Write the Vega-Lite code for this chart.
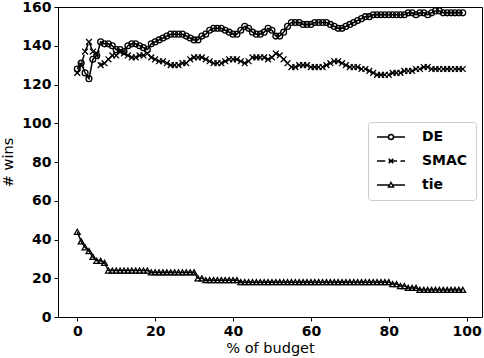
{
"$schema": "https://vega.github.io/schema/vega-lite/v6.json",
"width": 424, "height": 310,
"autosize": {"type": "none"},
"padding": {"left": 58, "top": 7, "right": 2, "bottom": 41},
"background": "white",
"config": {
 "view": {"stroke": "black", "strokeWidth": 1},
 "axis": {"grid": false, "domainColor": "black", "tickColor": "black", "tickSize": 4, "labelFont": "DejaVu Sans", "labelFontSize": 14, "labelFontWeight": "bold", "labelColor": "black", "titleFont": "DejaVu Sans", "titleFontSize": 14.5, "titleFontWeight": "normal", "titleColor": "black", "labelPadding": 3}
},
"data": {"values": [
{"x":0,"s":"DE","y":128},{"x":1,"s":"DE","y":131},{"x":2,"s":"DE","y":126},{"x":3,"s":"DE","y":123},{"x":4,"s":"DE","y":133},{"x":5,"s":"DE","y":135},{"x":6,"s":"DE","y":142},{"x":7,"s":"DE","y":141},{"x":8,"s":"DE","y":141},{"x":9,"s":"DE","y":140},
{"x":10,"s":"DE","y":138},{"x":11,"s":"DE","y":138},{"x":12,"s":"DE","y":137},{"x":13,"s":"DE","y":140},{"x":14,"s":"DE","y":141},{"x":15,"s":"DE","y":141},{"x":16,"s":"DE","y":140},{"x":17,"s":"DE","y":139},{"x":18,"s":"DE","y":138},{"x":19,"s":"DE","y":141},
{"x":20,"s":"DE","y":142},{"x":21,"s":"DE","y":143},{"x":22,"s":"DE","y":144},{"x":23,"s":"DE","y":145},{"x":24,"s":"DE","y":146},{"x":25,"s":"DE","y":146},{"x":26,"s":"DE","y":146},{"x":27,"s":"DE","y":146},{"x":28,"s":"DE","y":145},{"x":29,"s":"DE","y":144},
{"x":30,"s":"DE","y":143},{"x":31,"s":"DE","y":143},{"x":32,"s":"DE","y":145},{"x":33,"s":"DE","y":146},{"x":34,"s":"DE","y":148},{"x":35,"s":"DE","y":149},{"x":36,"s":"DE","y":149},{"x":37,"s":"DE","y":149},{"x":38,"s":"DE","y":148},{"x":39,"s":"DE","y":147},
{"x":40,"s":"DE","y":146},{"x":41,"s":"DE","y":146},{"x":42,"s":"DE","y":148},{"x":43,"s":"DE","y":150},{"x":44,"s":"DE","y":149},{"x":45,"s":"DE","y":147},{"x":46,"s":"DE","y":146},{"x":47,"s":"DE","y":146},{"x":48,"s":"DE","y":147},{"x":49,"s":"DE","y":149},
{"x":50,"s":"DE","y":148},{"x":51,"s":"DE","y":145},{"x":52,"s":"DE","y":145},{"x":53,"s":"DE","y":147},{"x":54,"s":"DE","y":150},{"x":55,"s":"DE","y":152},{"x":56,"s":"DE","y":152},{"x":57,"s":"DE","y":152},{"x":58,"s":"DE","y":151},{"x":59,"s":"DE","y":151},
{"x":60,"s":"DE","y":151},{"x":61,"s":"DE","y":152},{"x":62,"s":"DE","y":152},{"x":63,"s":"DE","y":152},{"x":64,"s":"DE","y":152},{"x":65,"s":"DE","y":151},{"x":66,"s":"DE","y":150},{"x":67,"s":"DE","y":149},{"x":68,"s":"DE","y":149},{"x":69,"s":"DE","y":150},
{"x":70,"s":"DE","y":151},{"x":71,"s":"DE","y":152},{"x":72,"s":"DE","y":153},{"x":73,"s":"DE","y":154},{"x":74,"s":"DE","y":155},{"x":75,"s":"DE","y":155},{"x":76,"s":"DE","y":156},{"x":77,"s":"DE","y":156},{"x":78,"s":"DE","y":156},{"x":79,"s":"DE","y":156},
{"x":80,"s":"DE","y":156},{"x":81,"s":"DE","y":156},{"x":82,"s":"DE","y":156},{"x":83,"s":"DE","y":156},{"x":84,"s":"DE","y":156},{"x":85,"s":"DE","y":157},{"x":86,"s":"DE","y":157},{"x":87,"s":"DE","y":156},{"x":88,"s":"DE","y":157},{"x":89,"s":"DE","y":157},
{"x":90,"s":"DE","y":156},{"x":91,"s":"DE","y":157},{"x":92,"s":"DE","y":158},{"x":93,"s":"DE","y":158},{"x":94,"s":"DE","y":157},{"x":95,"s":"DE","y":157},{"x":96,"s":"DE","y":157},{"x":97,"s":"DE","y":157},{"x":98,"s":"DE","y":157},{"x":99,"s":"DE","y":157},
{"x":0,"s":"SMAC","y":126},{"x":1,"s":"SMAC","y":130},{"x":2,"s":"SMAC","y":137},{"x":3,"s":"SMAC","y":142},{"x":4,"s":"SMAC","y":137},{"x":5,"s":"SMAC","y":136},{"x":6,"s":"SMAC","y":130},{"x":7,"s":"SMAC","y":131},{"x":8,"s":"SMAC","y":133},{"x":9,"s":"SMAC","y":135},
{"x":10,"s":"SMAC","y":135},{"x":11,"s":"SMAC","y":137},{"x":12,"s":"SMAC","y":136},{"x":13,"s":"SMAC","y":135},{"x":14,"s":"SMAC","y":134},{"x":15,"s":"SMAC","y":134},{"x":16,"s":"SMAC","y":135},{"x":17,"s":"SMAC","y":135},{"x":18,"s":"SMAC","y":136},{"x":19,"s":"SMAC","y":134},
{"x":20,"s":"SMAC","y":133},{"x":21,"s":"SMAC","y":132},{"x":22,"s":"SMAC","y":132},{"x":23,"s":"SMAC","y":131},{"x":24,"s":"SMAC","y":130},{"x":25,"s":"SMAC","y":130},{"x":26,"s":"SMAC","y":130},{"x":27,"s":"SMAC","y":131},{"x":28,"s":"SMAC","y":131},{"x":29,"s":"SMAC","y":133},
{"x":30,"s":"SMAC","y":134},{"x":31,"s":"SMAC","y":134},{"x":32,"s":"SMAC","y":134},{"x":33,"s":"SMAC","y":133},{"x":34,"s":"SMAC","y":132},{"x":35,"s":"SMAC","y":131},{"x":36,"s":"SMAC","y":131},{"x":37,"s":"SMAC","y":131},{"x":38,"s":"SMAC","y":132},{"x":39,"s":"SMAC","y":133},
{"x":40,"s":"SMAC","y":133},{"x":41,"s":"SMAC","y":133},{"x":42,"s":"SMAC","y":132},{"x":43,"s":"SMAC","y":131},{"x":44,"s":"SMAC","y":132},{"x":45,"s":"SMAC","y":134},{"x":46,"s":"SMAC","y":134},{"x":47,"s":"SMAC","y":134},{"x":48,"s":"SMAC","y":134},{"x":49,"s":"SMAC","y":133},
{"x":50,"s":"SMAC","y":134},{"x":51,"s":"SMAC","y":136},{"x":52,"s":"SMAC","y":135},{"x":53,"s":"SMAC","y":133},{"x":54,"s":"SMAC","y":131},{"x":55,"s":"SMAC","y":129},{"x":56,"s":"SMAC","y":129},{"x":57,"s":"SMAC","y":130},{"x":58,"s":"SMAC","y":130},{"x":59,"s":"SMAC","y":130},
{"x":60,"s":"SMAC","y":129},{"x":61,"s":"SMAC","y":129},{"x":62,"s":"SMAC","y":129},{"x":63,"s":"SMAC","y":129},{"x":64,"s":"SMAC","y":130},{"x":65,"s":"SMAC","y":131},{"x":66,"s":"SMAC","y":132},{"x":67,"s":"SMAC","y":132},{"x":68,"s":"SMAC","y":131},{"x":69,"s":"SMAC","y":130},
{"x":70,"s":"SMAC","y":129},{"x":71,"s":"SMAC","y":129},{"x":72,"s":"SMAC","y":129},{"x":73,"s":"SMAC","y":128},{"x":74,"s":"SMAC","y":128},{"x":75,"s":"SMAC","y":127},{"x":76,"s":"SMAC","y":126},{"x":77,"s":"SMAC","y":125},{"x":78,"s":"SMAC","y":125},{"x":79,"s":"SMAC","y":125},
{"x":80,"s":"SMAC","y":125},{"x":81,"s":"SMAC","y":126},{"x":82,"s":"SMAC","y":126},{"x":83,"s":"SMAC","y":126},{"x":84,"s":"SMAC","y":127},{"x":85,"s":"SMAC","y":127},{"x":86,"s":"SMAC","y":127},{"x":87,"s":"SMAC","y":128},{"x":88,"s":"SMAC","y":128},{"x":89,"s":"SMAC","y":129},
{"x":90,"s":"SMAC","y":129},{"x":91,"s":"SMAC","y":128},{"x":92,"s":"SMAC","y":128},{"x":93,"s":"SMAC","y":128},{"x":94,"s":"SMAC","y":128},{"x":95,"s":"SMAC","y":128},{"x":96,"s":"SMAC","y":128},{"x":97,"s":"SMAC","y":128},{"x":98,"s":"SMAC","y":128},{"x":99,"s":"SMAC","y":128},
{"x":0,"s":"tie","y":44},{"x":1,"s":"tie","y":39},{"x":2,"s":"tie","y":36},{"x":3,"s":"tie","y":34},{"x":4,"s":"tie","y":31},{"x":5,"s":"tie","y":29},{"x":6,"s":"tie","y":29},{"x":7,"s":"tie","y":28},{"x":8,"s":"tie","y":24},{"x":9,"s":"tie","y":24},
{"x":10,"s":"tie","y":24},{"x":11,"s":"tie","y":24},{"x":12,"s":"tie","y":24},{"x":13,"s":"tie","y":24},{"x":14,"s":"tie","y":24},{"x":15,"s":"tie","y":24},{"x":16,"s":"tie","y":24},{"x":17,"s":"tie","y":24},{"x":18,"s":"tie","y":24},{"x":19,"s":"tie","y":23},
{"x":20,"s":"tie","y":23},{"x":21,"s":"tie","y":23},{"x":22,"s":"tie","y":23},{"x":23,"s":"tie","y":23},{"x":24,"s":"tie","y":23},{"x":25,"s":"tie","y":23},{"x":26,"s":"tie","y":23},{"x":27,"s":"tie","y":23},{"x":28,"s":"tie","y":23},{"x":29,"s":"tie","y":23},
{"x":30,"s":"tie","y":23},{"x":31,"s":"tie","y":20},{"x":32,"s":"tie","y":20},{"x":33,"s":"tie","y":19},{"x":34,"s":"tie","y":19},{"x":35,"s":"tie","y":19},{"x":36,"s":"tie","y":19},{"x":37,"s":"tie","y":19},{"x":38,"s":"tie","y":19},{"x":39,"s":"tie","y":19},
{"x":40,"s":"tie","y":19},{"x":41,"s":"tie","y":19},{"x":42,"s":"tie","y":18},{"x":43,"s":"tie","y":18},{"x":44,"s":"tie","y":18},{"x":45,"s":"tie","y":18},{"x":46,"s":"tie","y":18},{"x":47,"s":"tie","y":18},{"x":48,"s":"tie","y":18},{"x":49,"s":"tie","y":18},
{"x":50,"s":"tie","y":18},{"x":51,"s":"tie","y":18},{"x":52,"s":"tie","y":18},{"x":53,"s":"tie","y":18},{"x":54,"s":"tie","y":18},{"x":55,"s":"tie","y":18},{"x":56,"s":"tie","y":18},{"x":57,"s":"tie","y":18},{"x":58,"s":"tie","y":18},{"x":59,"s":"tie","y":18},
{"x":60,"s":"tie","y":18},{"x":61,"s":"tie","y":18},{"x":62,"s":"tie","y":18},{"x":63,"s":"tie","y":18},{"x":64,"s":"tie","y":18},{"x":65,"s":"tie","y":18},{"x":66,"s":"tie","y":18},{"x":67,"s":"tie","y":18},{"x":68,"s":"tie","y":18},{"x":69,"s":"tie","y":18},
{"x":70,"s":"tie","y":18},{"x":71,"s":"tie","y":18},{"x":72,"s":"tie","y":18},{"x":73,"s":"tie","y":18},{"x":74,"s":"tie","y":18},{"x":75,"s":"tie","y":18},{"x":76,"s":"tie","y":18},{"x":77,"s":"tie","y":18},{"x":78,"s":"tie","y":18},{"x":79,"s":"tie","y":18},
{"x":80,"s":"tie","y":18},{"x":81,"s":"tie","y":17},{"x":82,"s":"tie","y":17},{"x":83,"s":"tie","y":16},{"x":84,"s":"tie","y":16},{"x":85,"s":"tie","y":15},{"x":86,"s":"tie","y":15},{"x":87,"s":"tie","y":15},{"x":88,"s":"tie","y":14},{"x":89,"s":"tie","y":14},
{"x":90,"s":"tie","y":14},{"x":91,"s":"tie","y":14},{"x":92,"s":"tie","y":14},{"x":93,"s":"tie","y":14},{"x":94,"s":"tie","y":14},{"x":95,"s":"tie","y":14},{"x":96,"s":"tie","y":14},{"x":97,"s":"tie","y":14},{"x":98,"s":"tie","y":14},{"x":99,"s":"tie","y":14}
]},
"encoding": {
 "x": {"field": "x", "type": "quantitative", "title": "% of budget", "scale": {"domain": [-4.95, 103.95], "nice": false, "zero": false}, "axis": {"values": [0,20,40,60,80,100], "titlePadding": 3}},
 "y": {"field": "y", "type": "quantitative", "title": "# wins", "scale": {"domain": [0, 160], "nice": false}, "axis": {"values": [0,20,40,60,80,100,120,140,160], "titlePadding": 6}}
},
"layer": [
 {"mark": {"type": "line", "color": "black", "strokeWidth": 1.5},
  "encoding": {"strokeDash": {"field": "s", "type": "nominal", "scale": {"domain": ["DE","SMAC","tie"], "range": [[1,0],[8,3.5],[1,0]]}, "legend": null}}},
 {"mark": {"type": "point", "color": "black", "filled": false, "strokeWidth": 1.3, "size": 34, "opacity": 1},
  "encoding": {"shape": {"field": "s", "type": "nominal", "scale": {"domain": ["DE","SMAC","tie"], "range": ["circle", "M-1,-1L1,1M-1,1L1,-1", "triangle-up"]}, "legend": null}}},
 {"mark": {"type": "point", "color": "black", "filled": false, "opacity": 0, "size": 25},
  "encoding": {"shape": {"field": "s", "type": "nominal", "scale": {"domain": ["DE","SMAC","tie"], "range": ["M-5.6,0L-1,0M1,0L5.6,0M-1,0A1,1,0,1,0,1,0A1,1,0,1,0,-1,0", "M-5.6,0L-2.3,0M-0.9,0L2.4,0M3.8,0L5.6,0M-0.9,-0.9L0.9,0.9M-0.9,0.9L0.9,-0.9", "M-5.6,0L-0.6,0M0.6,0L5.6,0M-1,0.8L1,0.8L0,-1Z"]},
   "legend": {"title": null, "orient": "none", "legendX": 310, "legendY": 115, "padding": 8, "strokeColor": "#cccccc", "cornerRadius": 3, "fillColor": "white", "labelFont": "DejaVu Sans", "labelFontSize": 14, "labelFontWeight": "bold", "labelColor": "black", "symbolSize": 25, "rowPadding": 10, "symbolOffset": 8, "labelOffset": 24, "symbolStrokeWidth": 1.5,
    "encode": {"symbols": {"update": {"fill": {"value": "white"}, "stroke": {"value": "black"}, "strokeWidth": {"value": 1.5}, "opacity": {"value": 1}}}}}}}}
],
"resolve": {"scale": {"shape": "independent"}}
}
